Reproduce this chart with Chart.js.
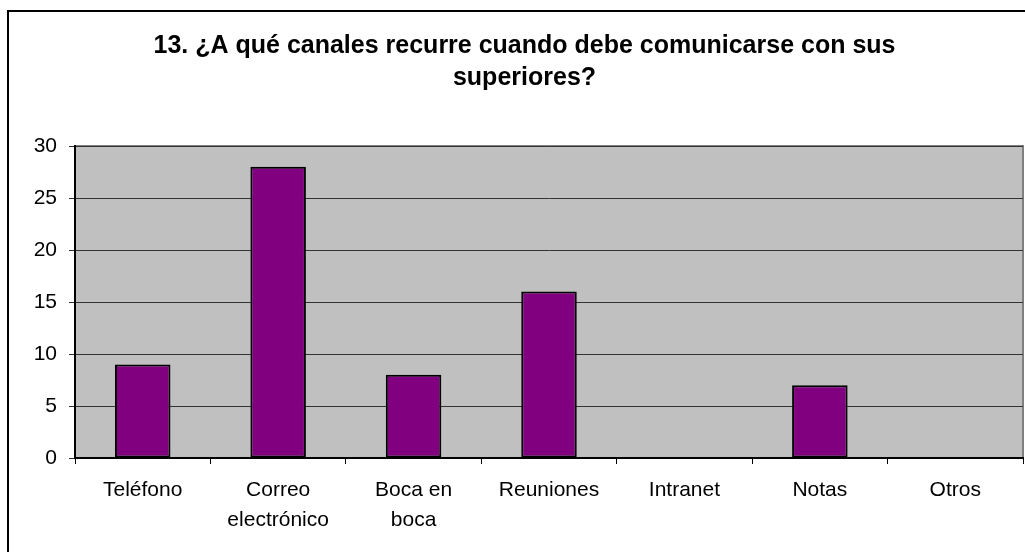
<!DOCTYPE html>
<html>
<head>
<meta charset="utf-8">
<script src="https://cdn.jsdelivr.net/npm/chart.js@4/dist/chart.umd.min.js"></script>
<style>
  html, body { margin: 0; padding: 0; background: #fff; overflow: hidden; }
  #wrap { position: relative; width: 1025px; height: 552px; }
</style>
</head>
<body>
<div id="wrap"><canvas id="cv" width="1025" height="552"></canvas></div>
<script>
// survey question 13 — channels used to reach superiors
var titleLines = ['13. ¿A qué canales recurre cuando debe comunicarse con sus', 'superiores?'];
var categories = ['Teléfono', ['Correo', 'electrónico'], ['Boca en', 'boca'], 'Reuniones', 'Intranet', 'Notas', 'Otros'];
var counts = [9, 28, 8, 16, 0, 7, 0];
var yTicks = [0, 5, 10, 15, 20, 25, 30];

var font = 'Arial, "Liberation Sans", sans-serif';

// grey plot background plus the outer chart frame
var frame = {
  id: 'frame',
  beforeDraw: function (chart) {
    var c = chart.ctx, a = chart.chartArea;
    c.save();
    c.fillStyle = '#c0c0c0';
    c.fillRect(a.left, a.top, a.right - a.left, a.bottom - a.top);
    c.strokeStyle = '#808080';
    c.lineWidth = 2;
    c.beginPath();
    c.moveTo(a.left, a.top); c.lineTo(a.right, a.top); c.lineTo(a.right, a.bottom);
    c.stroke();
    c.strokeStyle = '#000';
    c.lineWidth = 2;
    c.beginPath();
    c.moveTo(8, chart.height + 5); c.lineTo(8, 11); c.lineTo(chart.width + 5, 11);
    c.stroke();
    c.restore();
  }
};

new Chart(document.getElementById('cv'), {
  type: 'bar',
  data: {
    labels: categories,
    datasets: [{
      data: counts,
      backgroundColor: '#800080',
      borderColor: '#000',
      borderWidth: 2,
      borderSkipped: false,
      categoryPercentage: 1,
      barPercentage: 0.41
    }]
  },
  plugins: [frame],
  options: {
    responsive: false,
    animation: false,
    // left padding nudges the centred title to the right; y axis width keeps plot left at 75
    layout: { padding: { left: 26, right: 2, top: 0, bottom: 0 } },
    plugins: {
      legend: { display: false },
      tooltip: { enabled: false },
      title: {
        display: true,
        text: titleLines,
        color: '#000',
        font: { family: font, size: 25, weight: 'bold', lineHeight: '32px' },
        padding: { top: 30, bottom: 52 }
      }
    },
    scales: {
      x: {
        afterFit: function (s) { s.height = 94; },
        grid: { offset: true, drawOnChartArea: false, color: '#000', tickLength: 6 },
        border: { color: '#000', width: 2 },
        ticks: { color: '#000', padding: 11, maxRotation: 0, font: { family: font, size: 21, lineHeight: '30px' } }
      },
      y: {
        min: 0,
        max: 30,
        afterFit: function (s) { s.width = 49; },
        afterBuildTicks: function (s) { s.ticks = yTicks.map(function (v) { return { value: v }; }); },
        grid: { color: '#333', lineWidth: 1, tickLength: 6 },
        border: { color: '#000', width: 2 },
        ticks: { color: '#000', padding: 12, font: { family: font, size: 21 } }
      }
    }
  }
});
</script>
</body>
</html>
